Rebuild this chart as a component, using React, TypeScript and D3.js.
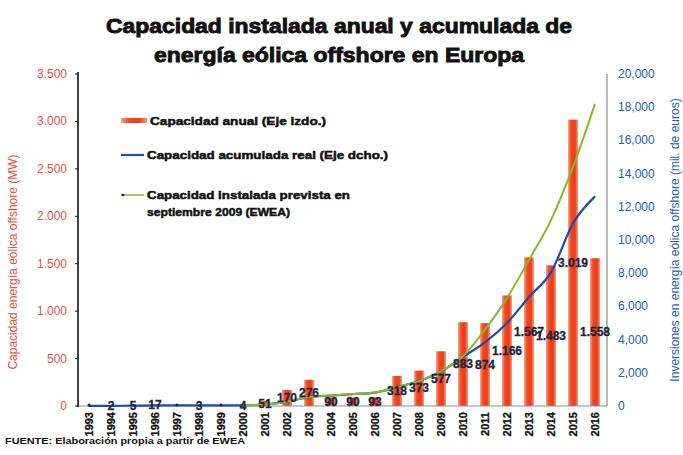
import React from "react";
import * as d3 from "d3";

const years = ["1993","1994","1995","1996","1997","1998","1999","2000","2001","2002","2003","2004","2005","2006","2007","2008","2009","2010","2011","2012","2013","2014","2015","2016"];
const annualMW = [0,2,5,17,0,3,0,4,51,170,276,90,90,93,318,373,577,883,874,1166,1567,1483,3019,1558];
const cumulativeMW = [10,12,17,34,34,37,37,41,92,262,538,628,718,811,1129,1502,2079,2962,3836,5002,6569,8052,11000,12629];
const forecastYears = ["2000","2001","2002","2003","2004","2005","2006","2007","2008","2009","2010","2011","2012","2013","2014","2015","2016"];
const forecastMW = [41,92,262,538,628,718,811,1129,1502,2100,3000,4600,6500,8800,11200,14400,18200];
const leftTicks = [0,500,1000,1500,2000,2500,3000,3500];
const rightTicks = [0,2000,4000,6000,8000,10000,12000,14000,16000,18000,20000];

const titleLines = ["Capacidad instalada anual y acumulada de", "energía eólica offshore en Europa"];
const leftTitle = "Capacidad energía eólica  offshore (MW)";
const rightTitle = "Inversiones en energía eólica offshore (mil. de euros)";
const legendLabels = ["Capacidad anual (Eje izdo.)", "Capacidad acumulada real (Eje dcho.)", "Capacidad instalada prevista en", "septiembre 2009 (EWEA)"];
const sourceText = "FUENTE: Elaboración  propia a partir de EWEA";

const esLocale = d3.formatLocale({ decimal: ",", thousands: ".", grouping: [3], currency: ["", "€"] });
const fmtES = esLocale.format(",");
const fmtEN = d3.format(",");

const FONT = "'Liberation Sans', Arial, Helvetica, sans-serif";
const RED = "#E8503F";
const BLUE = "#2361B3";
const INK = "#111";

export default function App() {
  const W = 683, H = 455;
  const left = 78, right = 606, top = 74, bottom = 406;
  const x = d3.scaleBand<string>().domain(years).range([left, right]).padding(0);
  const yL = d3.scaleLinear().domain([0, 3500]).range([bottom, top]);
  const yR = d3.scaleLinear().domain([0, 20000]).range([bottom, top]);
  const cx = (yr: string) => (x(yr) as number) + x.bandwidth() / 2;
  const barW = x.bandwidth() * 0.45;

  const blueLine = d3.line<number>()
    .x((_, i) => cx(years[i]))
    .y((d) => yR(d))
    .curve(d3.curveMonotoneX)(cumulativeMW) as string;
  const greenLine = d3.line<number>()
    .x((_, i) => cx(forecastYears[i]))
    .y((d) => yR(d))
    .curve(d3.curveMonotoneX)(forecastMW) as string;

  const titleLens = [466, 370];
  const legendLens = [176, 241, 203, 143];
  const heavy = { stroke: INK, strokeWidth: 0.5 } as const;

  return (
    <svg width={W} height={H} style={{ position: "absolute", left: 0, top: 0, display: "block", background: "#fff" }} fontFamily={FONT}>
      <defs>
        <linearGradient id="barGrad" x1="0" x2="1" y1="0" y2="0">
          <stop offset="0%" stopColor="#F9A27A" />
          <stop offset="30%" stopColor="#F04A22" />
          <stop offset="70%" stopColor="#EC3A1C" />
          <stop offset="100%" stopColor="#F79A70" />
        </linearGradient>
      </defs>

      {/* Title */}
      {titleLines.map((t, i) => (
        <text key={t} x={339} y={33 + i * 29} textAnchor="middle" fontSize={21} fontWeight="bold" fill={INK}
          stroke={INK} strokeWidth={0.9} textLength={titleLens[i]} lengthAdjust="spacingAndGlyphs">{t}</text>
      ))}

      {/* Bars */}
      {annualMW.map((v, i) => v > 0 ? (
        <rect key={years[i]} x={cx(years[i]) - barW / 2} y={yL(v)} width={barW} height={yL(0) - yL(v)} fill="url(#barGrad)" />
      ) : null)}

      {/* Axes lines */}
      <line x1={left} x2={right + 1} y1={bottom} y2={bottom} stroke="#8a90a0" strokeWidth={1} />
      <line x1={right + 1} x2={right + 1} y1={top} y2={bottom} stroke="#8a8a8a" strokeWidth={1.2} />
      <line x1={left} x2={left} y1={top - 2} y2={bottom + 1} stroke={INK} strokeWidth={1.6} />
      {leftTicks.map((t) => (
        <line key={t} x1={left - 3} x2={left} y1={yL(t)} y2={yL(t)} stroke={INK} strokeWidth={1} />
      ))}

      {/* Lines */}
      <path d={blueLine} fill="none" stroke="#1A4DB0" strokeWidth={2.2} />
      <path d={greenLine} fill="none" stroke="#8CB52E" strokeWidth={2} />

      {/* zero markers */}
      {annualMW.map((v, i) => v === 0 ? (
        <circle key={years[i]} cx={cx(years[i])} cy={yL(0) - 1} r={1.5} fill="#1c2440" />
      ) : null)}

      {/* Data labels */}
      {annualMW.map((v, i) => v > 0 ? (
        <text key={years[i]} x={cx(years[i])} y={yL(v / 2)} textAnchor="middle" dominantBaseline="central" fontSize={12} fontWeight="bold" fill="#1c2440" stroke="#1c2440" strokeWidth={0.3}>{fmtES(v)}</text>
      ) : null)}

      {/* Left tick labels */}
      {leftTicks.map((t) => (
        <text key={t} x={67} y={yL(t)} textAnchor="end" dominantBaseline="central" fontSize={12} fill={RED}>{fmtES(t)}</text>
      ))}
      <text transform={`translate(13,${(top + bottom) / 2 + 22}) rotate(-90)`} textAnchor="middle" dominantBaseline="central" fontSize={12} fill={RED}>{leftTitle}</text>

      {/* Right tick labels */}
      {rightTicks.map((t) => (
        <text key={t} x={618} y={yR(t)} textAnchor="start" dominantBaseline="central" fontSize={12} fill={BLUE}>{fmtEN(t)}</text>
      ))}
      <text transform={`translate(675,${(top + bottom) / 2}) rotate(-90)`} textAnchor="middle" dominantBaseline="central" fontSize={12} fill={BLUE}>{rightTitle}</text>

      {/* X labels */}
      {years.map((yr) => (
        <text key={yr} transform={`translate(${cx(yr)},412) rotate(-90)`} textAnchor="end" dominantBaseline="central" fontSize={11} fontWeight="bold" fill={INK} {...heavy} strokeWidth={0.3}>{yr}</text>
      ))}

      {/* Legend */}
      <rect x={121} y={118} width={26} height={5} fill="url(#barGrad)" />
      <text x={150} y={121} dominantBaseline="central" fontSize={11.5} fontWeight="bold" fill={INK} {...heavy} textLength={legendLens[0]} lengthAdjust="spacingAndGlyphs">{legendLabels[0]}</text>
      <line x1={121} x2={144} y1={155} y2={155} stroke="#1A4DB0" strokeWidth={2.2} />
      <text x={147} y={155} dominantBaseline="central" fontSize={11.5} fontWeight="bold" fill={INK} {...heavy} textLength={legendLens[1]} lengthAdjust="spacingAndGlyphs">{legendLabels[1]}</text>
      <line x1={121} x2={144} y1={195} y2={195} stroke="#8CB52E" strokeWidth={1.5} />
      <circle cx={123} cy={195} r={1.3} fill="#1c2440" />
      <text x={147} y={195} dominantBaseline="central" fontSize={11.5} fontWeight="bold" fill={INK} {...heavy} textLength={legendLens[2]} lengthAdjust="spacingAndGlyphs">{legendLabels[2]}</text>
      <text x={147} y={212} dominantBaseline="central" fontSize={11.5} fontWeight="bold" fill={INK} {...heavy} textLength={legendLens[3]} lengthAdjust="spacingAndGlyphs">{legendLabels[3]}</text>

      {/* Source */}
      <text x={5} y={444} fontSize={9.5} fontWeight="bold" fill={INK} textLength={240} lengthAdjust="spacingAndGlyphs">{sourceText}</text>
    </svg>
  );
}
